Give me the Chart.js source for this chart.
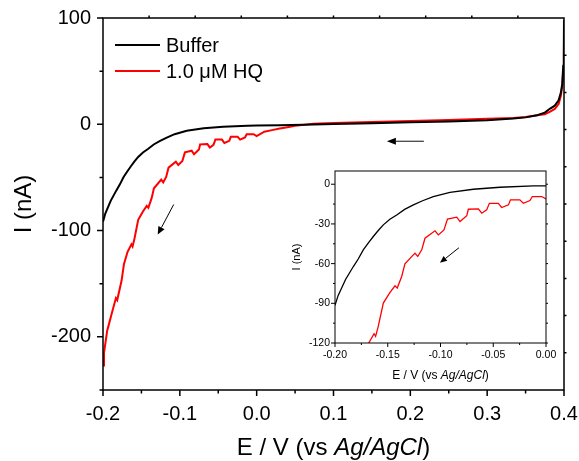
<!DOCTYPE html>
<html>
<head>
<meta charset="utf-8">
<script src="https://cdn.jsdelivr.net/npm/chart.js@4.4.1/dist/chart.umd.min.js"></script>
<style>
    body { margin: 0; background: #fff; }
    #wrap { position: relative; width: 579px; height: 461px; }
    #main { position: absolute; left: 0; top: 0; }
    #inset { position: absolute; left: 288px; top: 163px; }
</style>
</head>
<body>
<div id="wrap">
    <canvas id="main" width="579" height="461"></canvas>
    <canvas id="inset" width="276" height="225"></canvas>
</div>
<script>
// Buffer (black) - potential in V, current in nA
const bufferPotential = [-0.200, -0.197, -0.1937, -0.190, -0.1826, -0.178, -0.1732, -0.168, -0.1637, -0.159,
    -0.1542, -0.148, -0.1415, -0.134, -0.1257, -0.117, -0.1068, -0.091, -0.0689, -0.0436,
    -0.012, 0.000, 0.030, 0.060, 0.100, 0.150, 0.200, 0.250, 0.300, 0.334,
    0.350, 0.365, 0.375, 0.382, 0.388, 0.393, 0.396, 0.3977, 0.399, 0.3998, 0.400];
const bufferCurrent = [-91.6, -84, -78.5, -72, -62.2, -56.5, -49.6, -44, -39.5, -35,
    -30.7, -26.5, -23.2, -19, -15.6, -12.5, -9.3, -6.1, -3.8, -2.3,
    -1.3, -1.2, -0.9, -0.4, 0.3, 1.0, 1.8, 2.7, 3.8, 5.4,
    6.5, 8.5, 11, 14.8, 17.5, 22.6, 30, 38, 55, 75, 98];

// 1.0 uM HQ (red)
const hqPotential = [-0.200, -0.1987, -0.1945, -0.1932, -0.1888, -0.1832, -0.1815, -0.1758, -0.1727, -0.168,
    -0.163, -0.1615, -0.159, -0.1542, -0.148, -0.1431, -0.141, -0.1368, -0.1337, -0.1242,
    -0.1216, -0.1178, -0.1147, -0.1052, -0.102, -0.0967, -0.0934, -0.0846, -0.0815, -0.0751,
    -0.0736, -0.0641, -0.0609, -0.0562, -0.0537, -0.0452, -0.042, -0.0356, -0.0337, -0.0248,
    -0.0215, -0.0152, -0.013, -0.004, 0.000, 0.010, 0.020, 0.030, 0.040, 0.050,
    0.0737, 0.100, 0.150, 0.200, 0.250, 0.300, 0.334, 0.350, 0.365, 0.375,
    0.382, 0.388, 0.393, 0.396, 0.398, 0.399, 0.3998, 0.400];
const hqCurrent = [-227, -215, -194, -190.6, -178.6, -163.5, -165.4, -147, -131.4, -120,
    -113, -115, -107.5, -89.8, -82, -76.8, -78.5, -69.7, -60.2, -52.1,
    -54.6, -49.6, -40.8, -35.2, -38.3, -34.5, -26.4, -24.9, -28.2, -23.8,
    -18.9, -18.6, -21.9, -19.4, -14.4, -14.4, -17.6, -15.6, -11.8, -11.8,
    -14.4, -12.3, -9.3, -9.3, -11.1, -7, -5.5, -4, -2.8, -1.5,
    0.6, 1.3, 2.2, 3.0, 4.0, 5.2, 5.8, 6.8, 8.5, 9.5,
    12, 14.5, 19, 27, 38, 50, 65, 76];

// tick labels
const mainXTicks = [-0.2, -0.1, 0.0, 0.1, 0.2, 0.3, 0.4];
const mainYTicks = [-200, -100, 0, 100];
const insetXTicks = [-0.20, -0.15, -0.10, -0.05, 0.00];
const insetYTicks = [-120, -90, -60, -30, 0];

const FONT = "'Liberation Sans', Arial, sans-serif";

function toPoints(xs, ys) {
    return xs.map((x, i) => ({ x: x, y: ys[i] }));
}

function minorBetween(major) {
    const out = [];
    for (let i = 0; i < major.length - 1; i++) out.push((major[i] + major[i + 1]) / 2);
    return out;
}

// no extra label padding, the layout padding decides the plot box
function noPad(s) {
    s.paddingLeft = 0; s.paddingRight = 0; s.paddingTop = 0; s.paddingBottom = 0;
}

// frame + tick marks drawn on the chart's own scales
function frameTicks(cfg) {
    return {
        id: 'frameTicks',
        afterDraw(chart) {
            const { ctx, chartArea: a, scales: { x, y } } = chart;
            ctx.save();
            ctx.strokeStyle = '#000';
            ctx.lineWidth = cfg.lineWidth;
            ctx.strokeRect(a.left, a.top, a.right - a.left, a.bottom - a.top);
            ctx.beginPath();
            const down = (v, len) => { const p = x.getPixelForValue(v); ctx.moveTo(p, a.bottom); ctx.lineTo(p, a.bottom + len); };
            const left = (v, len) => { const p = y.getPixelForValue(v); ctx.moveTo(a.left, p); ctx.lineTo(a.left - len, p); };
            cfg.xMajor.forEach(v => down(v, cfg.major));
            cfg.xMinor.forEach(v => down(v, cfg.minor));
            cfg.yMajor.forEach(v => left(v, cfg.major));
            cfg.yMinor.forEach(v => left(v, cfg.minor));
            if (cfg.topDiv) {
                for (let i = 1; i < cfg.topDiv; i++) {
                    const p = x.getPixelForValue(x.min + i * (x.max - x.min) / cfg.topDiv);
                    ctx.moveTo(p, a.top); ctx.lineTo(p, a.top - cfg.mirror);
                }
            }
            if (cfg.rightDiv) {
                for (let i = 1; i < cfg.rightDiv; i++) {
                    const p = y.getPixelForValue(y.min + i * (y.max - y.min) / cfg.rightDiv);
                    ctx.moveTo(a.right, p); ctx.lineTo(a.right + cfg.mirror, p);
                }
            }
            if (cfg.rightValues) {
                cfg.rightValues.forEach(v => {
                    const p = y.getPixelForValue(v);
                    ctx.moveTo(a.right, p); ctx.lineTo(a.right + cfg.mirror, p);
                });
            }
            ctx.stroke();
            ctx.restore();
        }
    };
}

function drawArrow(ctx, x1, y1, x2, y2, head, half, shaftColor, lw) {
    const ang = Math.atan2(y2 - y1, x2 - x1);
    const bx = x2 - head * Math.cos(ang), by = y2 - head * Math.sin(ang);
    ctx.save();
    ctx.strokeStyle = shaftColor;
    ctx.lineWidth = lw;
    ctx.beginPath(); ctx.moveTo(x1, y1); ctx.lineTo(bx, by); ctx.stroke();
    ctx.fillStyle = '#000';
    ctx.beginPath();
    ctx.moveTo(x2, y2);
    ctx.lineTo(bx + half * Math.sin(ang), by - half * Math.cos(ang));
    ctx.lineTo(bx - half * Math.sin(ang), by + half * Math.cos(ang));
    ctx.closePath(); ctx.fill();
    ctx.restore();
}

// arrows given in data units, converted through the scales
function arrows(list) {
    return {
        id: 'arrows',
        afterDatasetsDraw(chart) {
            const { ctx, scales: { x, y } } = chart;
            list.forEach(a => drawArrow(ctx,
                x.getPixelForValue(a.from[0]), y.getPixelForValue(a.from[1]),
                x.getPixelForValue(a.to[0]), y.getPixelForValue(a.to[1]),
                a.head, a.half, a.color, a.lw));
        }
    };
}

// x axis title with italic part
function mixedTitle(parts, size, offset) {
    return {
        id: 'mixedTitle',
        afterDraw(chart) {
            const { ctx, chartArea: a } = chart;
            ctx.save();
            ctx.fillStyle = '#000';
            ctx.textBaseline = 'alphabetic';
            let total = 0;
            parts.forEach(p => { ctx.font = (p[1] ? 'italic ' : '') + size + 'px ' + FONT; total += ctx.measureText(p[0]).width; });
            let cx = (a.left + a.right) / 2 - total / 2;
            parts.forEach(p => {
                ctx.font = (p[1] ? 'italic ' : '') + size + 'px ' + FONT;
                ctx.fillText(p[0], cx, a.bottom + offset);
                cx += ctx.measureText(p[0]).width;
            });
            ctx.restore();
        }
    };
}

const legendLines = {
    id: 'legendLines',
    afterDraw(chart) {
        const { ctx } = chart;
        ctx.save();
        ctx.font = '20px ' + FONT;
        ctx.textBaseline = 'middle';
        chart.data.datasets.forEach((ds, i) => {
            const yy = 45 + i * 26;
            ctx.strokeStyle = ds.borderColor;
            ctx.lineWidth = 2;
            ctx.beginPath(); ctx.moveTo(115, yy); ctx.lineTo(160, yy); ctx.stroke();
            ctx.fillStyle = '#000';
            ctx.fillText(ds.label, 166, yy + 1);
        });
        ctx.restore();
    }
};

const titleParts = [['E / V (vs ', false], ['Ag/AgCl', true], [')', false]];

new Chart(document.getElementById('main'), {
    type: 'line',
    data: {
        datasets: [
            { label: 'Buffer', data: toPoints(bufferPotential, bufferCurrent), borderColor: '#000000', borderWidth: 2 },
            { label: '1.0 \u03bcM HQ', data: toPoints(hqPotential, hqCurrent), borderColor: '#ff0000', borderWidth: 2 }
        ]
    },
    options: {
        responsive: false,
        animation: false,
        layout: { padding: { top: 18, right: 15, left: 0, bottom: 0 } },
        elements: { point: { radius: 0 }, line: { tension: 0 } },
        plugins: { legend: { display: false }, tooltip: { enabled: false } },
        scales: {
            x: {
                type: 'linear', min: -0.2, max: 0.4,
                grid: { display: false, drawTicks: false },
                border: { display: false },
                afterBuildTicks: s => { s.ticks = mainXTicks.map(v => ({ value: v })); },
                afterFit: s => { s.height = 71; noPad(s); },
                ticks: { padding: 12, color: '#000', maxRotation: 0, autoSkip: false,
                    font: { family: FONT, size: 20 }, callback: v => v.toFixed(1) }
            },
            y: {
                type: 'linear', min: -250, max: 100,
                grid: { display: false, drawTicks: false },
                border: { display: false },
                afterBuildTicks: s => { s.ticks = mainYTicks.map(v => ({ value: v })); },
                afterFit: s => { s.width = 103; noPad(s); },
                ticks: { padding: 12, color: '#000', font: { family: FONT, size: 20 }, callback: v => String(v) },
                title: { display: true, text: 'I (nA)', color: '#000', font: { family: FONT, size: 24 }, padding: { top: 10, bottom: 0 } }
            }
        }
    },
    plugins: [
        frameTicks({ lineWidth: 1.5, major: 6, minor: 3.5, mirror: 2.5,
            xMajor: mainXTicks, xMinor: minorBetween(mainXTicks),
            yMajor: mainYTicks, yMinor: [-250, -150, -50, 50],
            topDiv: 10, rightDiv: 10 }),
        arrows([
            { from: [0.2176, -16], to: [0.1695, -16], head: 9, half: 3.5, color: '#444', lw: 1.3 },
            { from: [-0.108, -75.5], to: [-0.1288, -103.8], head: 8, half: 3.5, color: '#000', lw: 1 }
        ]),
        mixedTitle(titleParts, 24, 65),
        legendLines
    ]
});

new Chart(document.getElementById('inset'), {
    type: 'line',
    data: {
        datasets: [
            { label: 'Buffer', data: toPoints(bufferPotential, bufferCurrent), borderColor: '#000000', borderWidth: 1.3 },
            { label: '1.0 \u03bcM HQ', data: toPoints(hqPotential, hqCurrent), borderColor: '#ff0000', borderWidth: 1.3 }
        ]
    },
    options: {
        responsive: false,
        animation: false,
        layout: { padding: { top: 8, right: 18, left: 0, bottom: 0 } },
        elements: { point: { radius: 0 }, line: { tension: 0 } },
        plugins: { legend: { display: false }, tooltip: { enabled: false } },
        scales: {
            x: {
                type: 'linear', min: -0.2, max: 0,
                grid: { display: false, drawTicks: false },
                border: { display: false },
                afterBuildTicks: s => { s.ticks = insetXTicks.map(v => ({ value: v })); },
                afterFit: s => { s.height = 45; noPad(s); },
                ticks: { padding: 6, color: '#000', maxRotation: 0, autoSkip: false,
                    font: { family: FONT, size: 10.5 }, callback: v => v.toFixed(2) }
            },
            y: {
                type: 'linear', min: -120, max: 10,
                grid: { display: false, drawTicks: false },
                border: { display: false },
                afterBuildTicks: s => { s.ticks = insetYTicks.map(v => ({ value: v })); },
                afterFit: s => { s.width = 47; noPad(s); },
                ticks: { padding: 5, color: '#000', font: { family: FONT, size: 10.5 }, callback: v => String(v) },
                title: { display: true, text: 'I (nA)', color: '#000', font: { family: FONT, size: 11 }, padding: { top: 2, bottom: 0 } }
            }
        }
    },
    plugins: [
        frameTicks({ lineWidth: 1, major: 4, minor: 2, mirror: 2,
            xMajor: insetXTicks, xMinor: minorBetween(insetXTicks),
            yMajor: insetYTicks, yMinor: [-105, -75, -45, -15],
            rightValues: [-120, -105, -90, -75, -60, -45, -30, -15, 0] }),
        arrows([
            { from: [-0.0825, -48], to: [-0.1005, -59.4], head: 7, half: 3, color: '#000', lw: 1 }
        ]),
        mixedTitle(titleParts, 12, 36)
    ]
});
</script>
</body>
</html>
